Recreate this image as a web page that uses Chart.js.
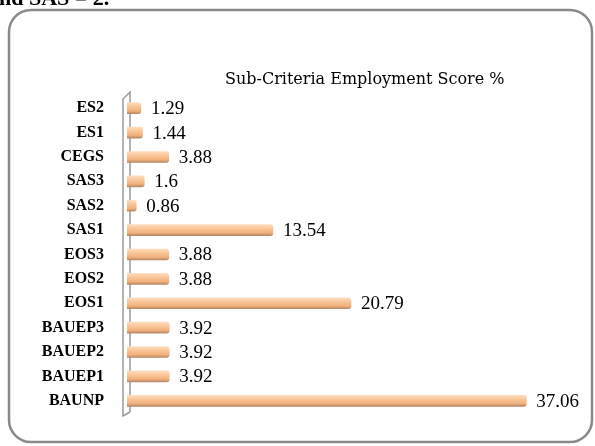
<!DOCTYPE html>
<html lang="en">
<head>
  <meta charset="utf-8">
  <title>Sub-Criteria Employment Score %</title>
  <script src="https://cdn.jsdelivr.net/npm/chart.js"></script>
  <style>
    html, body { margin: 0; padding: 0; background: #fff; }
    #wrap { width: 595px; height: 446px; }
  </style>
</head>
<body>
<div id="wrap">
  <canvas id="score-chart" width="595" height="446"></canvas>
</div>
<script>
  const categories = ['ES2', 'ES1', 'CEGS', 'SAS3', 'SAS2', 'SAS1', 'EOS3', 'EOS2', 'EOS1', 'BAUEP3', 'BAUEP2', 'BAUEP1', 'BAUNP'];
  const scores = [1.29, 1.44, 3.88, 1.6, 0.86, 13.54, 3.88, 3.88, 20.79, 3.92, 3.92, 3.92, 37.06];
  const scoreLabels = ['1.29', '1.44', '3.88', '1.6', '0.86', '13.54', '3.88', '3.88', '20.79', '3.92', '3.92', '3.92', '37.06'];

  const canvas = document.getElementById('score-chart');

  // frame, stray caption line above, title and the little 3d wall
  const decor = {
    id: 'decor',
    beforeDraw: (chart) => {
      const { ctx } = chart;
      ctx.save();
      ctx.fillStyle = '#000';
      ctx.font = 'bold 22px "Liberation Serif", serif';
      ctx.textBaseline = 'alphabetic';
      ctx.fillText('nd SAS = 2.', -1, 5);

      ctx.strokeStyle = '#8a8a8a';
      ctx.lineWidth = 2.5;
      ctx.beginPath();
      ctx.roundRect(9, 10, 583, 432, 22);
      ctx.stroke();

      ctx.fillStyle = '#000';
      ctx.font = '16px "DejaVu Serif", serif';
      ctx.textAlign = 'left';
      ctx.textBaseline = 'middle';
      ctx.fillText('Sub-Criteria Employment Score %', 225, 80);
      ctx.restore();
    },
    beforeDatasetsDraw: (chart) => {
      const { ctx, chartArea: { top, bottom, left } } = chart;
      ctx.save();
      ctx.strokeStyle = '#9a9a9a';
      ctx.lineWidth = 1.5;
      ctx.beginPath();
      ctx.moveTo(left + 3, bottom - 1);
      ctx.lineTo(left + 3, top - 4);
      ctx.lineTo(left - 4, top + 3);
      ctx.lineTo(left - 4, bottom + 3);
      ctx.lineTo(left + 3, bottom - 1);
      ctx.stroke();
      ctx.restore();
    },
    afterDatasetsDraw: (chart) => {
      const { ctx } = chart;
      const meta = chart.getDatasetMeta(0);
      ctx.save();
      ctx.fillStyle = '#000';
      ctx.font = '19px "Liberation Serif", serif';
      ctx.textAlign = 'left';
      ctx.textBaseline = 'middle';
      meta.data.forEach((bar, i) => {
        ctx.fillText(scoreLabels[i], bar.x + 10, bar.y + 1);
      });
      ctx.restore();
    }
  };

  function barFill(context) {
    const chart = context.chart;
    const yScale = chart.scales.y;
    if (!yScale || context.dataIndex === undefined) {
      return '#F8BF8C';
    }
    const y = yScale.getPixelForValue(context.dataIndex);
    if (!isFinite(y)) {
      return '#F8BF8C';
    }
    const g = chart.ctx.createLinearGradient(0, y - 5.5, 0, y + 5.5);
    g.addColorStop(0, '#FCDDBE');
    g.addColorStop(0.35, '#FAC699');
    g.addColorStop(0.75, '#F2B07C');
    g.addColorStop(1, '#B48866');
    return g;
  }

  new Chart(canvas, {
    type: 'bar',
    data: {
      labels: categories,
      datasets: [{
        data: scores,
        backgroundColor: barFill,
        borderWidth: 0,
        borderRadius: 3,
        borderSkipped: 'start',
        barThickness: 11
      }]
    },
    options: {
      indexAxis: 'y',
      responsive: false,
      animation: false,
      layout: {
        padding: { left: 10, right: 37, top: 96, bottom: 33 }
      },
      plugins: {
        legend: { display: false },
        tooltip: { enabled: false }
      },
      scales: {
        x: {
          display: false,
          min: 0,
          max: 40
        },
        y: {
          afterFit: (scale) => { scale.width = 117; },
          grid: { display: false, drawTicks: false },
          border: { display: false },
          ticks: {
            padding: 23,
            color: '#000',
            font: { family: '"Liberation Serif", serif', size: 16, weight: 'bold' }
          }
        }
      }
    },
    plugins: [decor]
  });
</script>
</body>
</html>
